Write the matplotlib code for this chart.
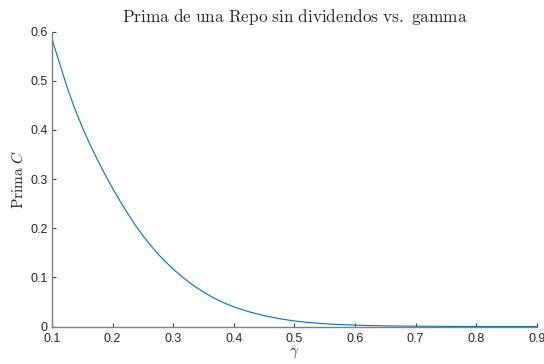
import numpy as np
import matplotlib
matplotlib.use("Agg")
import matplotlib.pyplot as plt

plt.rcParams["mathtext.fontset"] = "cm"
plt.rcParams["font.family"] = ["Liberation Sans", "DejaVu Sans"]

# Repo premium as a function of gamma (no dividends)
gamma = [0.1000, 0.1125, 0.1250, 0.1375, 0.1500, 0.1625, 0.1750, 0.1875,
         0.2000, 0.2125, 0.2250, 0.2375, 0.2500, 0.2625, 0.2750, 0.2875,
         0.3000, 0.3125, 0.3250, 0.3375, 0.3500, 0.3625, 0.3750, 0.3875,
         0.4000, 0.4250, 0.4500, 0.4750, 0.5000, 0.5250, 0.5500, 0.5750,
         0.6000, 0.6250, 0.6500, 0.6750, 0.7000, 0.7500, 0.8000, 0.8500,
         0.9000]
prima = [0.585, 0.5355, 0.4866, 0.4435, 0.4054, 0.3710, 0.3391, 0.3094,
         0.2813, 0.2548, 0.2298, 0.2064, 0.1849, 0.1653, 0.1475, 0.1315,
         0.1171, 0.1035, 0.0912, 0.0802, 0.0702, 0.0612, 0.0532, 0.0462,
         0.0400, 0.0300, 0.0222, 0.0160, 0.0113, 0.0080, 0.0057, 0.0040,
         0.0028, 0.0019, 0.0013, 0.0009, 0.0006, 0.00025, 0.0001,
         0.00004, 0.00001]

xticks = [0.1, 0.2, 0.3, 0.4, 0.5, 0.6, 0.7, 0.8, 0.9]
yticks = [0, 0.1, 0.2, 0.3, 0.4, 0.5, 0.6]
xticklabels = ["0.1", "0.2", "0.3", "0.4", "0.5", "0.6", "0.7", "0.8", "0.9"]
yticklabels = ["0", "0.1", "0.2", "0.3", "0.4", "0.5", "0.6"]

fig = plt.figure(figsize=(5.44, 3.64), dpi=100)
ax = fig.add_axes([0.0956, 0.103, 0.891, 0.810])

ax.plot(gamma, prima, color="#0072BD", linewidth=0.8)

ax.set_xlim(0.1, 0.9)
ax.set_ylim(0, 0.6)
ax.set_xticks(xticks)
ax.set_xticklabels(xticklabels)
ax.set_yticks(yticks)
ax.set_yticklabels(yticklabels)

for side in ("top", "right"):
    ax.spines[side].set_visible(False)
for side in ("left", "bottom"):
    ax.spines[side].set_color("#808080")
    ax.spines[side].set_linewidth(1.0)

ax.tick_params(direction="in", length=3, width=0.8, color="#404040",
               labelsize=9, labelcolor="#262626")
ax.tick_params(axis="x", pad=5)
ax.tick_params(axis="y", pad=3)

ax.set_title(r"$\mathrm{Prima\ de\ una\ Repo\ sin\ dividendos\ vs.\ gamma}$",
             fontsize=12.4, color="#262626", pad=7)
ax.set_xlabel(r"$\gamma$", fontsize=11, color="#262626", labelpad=0)
ax.set_ylabel(r"$\mathrm{Prima}\ C$", fontsize=11, color="#262626", labelpad=3)

fig.savefig("out.png", dpi=100)
